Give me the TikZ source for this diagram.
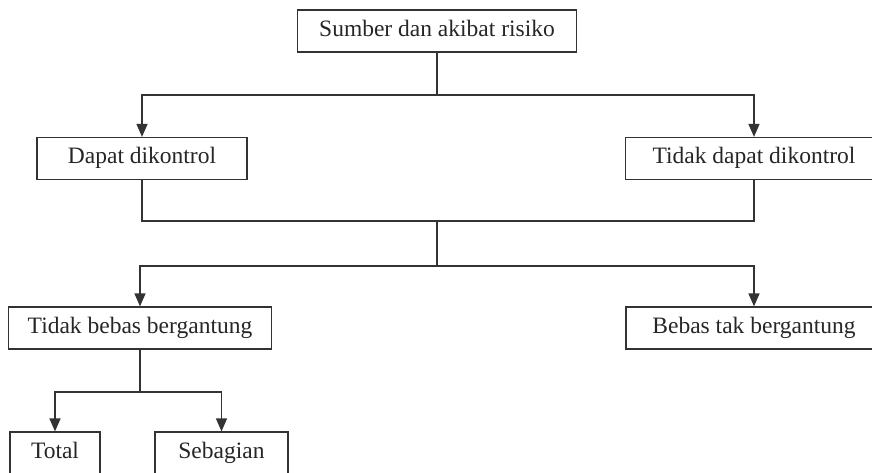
\documentclass[tikz,border=0pt]{standalone}
\usepackage{fontspec}
\setmainfont{Liberation Serif}
\usepackage{tikz}
\usetikzlibrary{arrows.meta}

\tikzset{
    kotak/.style={draw=black!80, line width=1.2pt, inner sep=0pt, minimum height=42pt,
        text height=16pt, text depth=5pt,
        text=black!85, font=\fontsize{23.5}{28}\selectfont},
    garis/.style={draw=black!80, line width=1.4pt},
    panah/.style={garis, -{Triangle[width=11pt,length=13pt]}}
}

\begin{document}
\begin{tikzpicture}[x=1pt, y=-1pt]
        \useasboundingbox (0,0) rectangle (872,473);
        \clip (0,0) rectangle (872,473);

        % kotak
        \node[kotak, minimum width=279pt] (sumber) at (437,31) {Sumber dan akibat risiko};
        \node[kotak, minimum width=210pt] (dapat) at (142,158.5) {Dapat dikontrol};
        \node[kotak, minimum width=257pt] (tdkdapat) at (754,158.5) {Tidak dapat dikontrol};
        \node[kotak, minimum width=263pt] (tdkbebas) at (140,328) {Tidak bebas bergantung};
        \node[kotak, minimum width=256pt] (bebas) at (754,328) {Bebas tak bergantung};
        \node[kotak, minimum width=90pt] (total) at (55,453) {Total};
        \node[kotak, minimum width=133pt] (sebagian) at (221.5,453) {Sebagian};

        % titik simpang
        \coordinate (j1) at (437,95);
        \coordinate (j2) at (437,221);
        \coordinate (j3) at (437,266);
        \coordinate (j4) at (140,392);

        \draw[garis] (sumber) -- (j1);
        \draw[panah] (j1) -| (dapat);
        \draw[panah] (j1) -| (tdkdapat);

        \draw[garis] (dapat) |- (j2);
        \draw[garis] (tdkdapat) |- (j2);
        \draw[garis] (j2) -- (j3);
        \draw[panah] (j3) -| (tdkbebas);
        \draw[panah] (j3) -| (bebas);

        \draw[garis] (tdkbebas) -- (j4);
        \draw[panah] (j4) -| (total);
        \draw[panah] (j4) -| (sebagian);
    \end{tikzpicture}
\end{document}
